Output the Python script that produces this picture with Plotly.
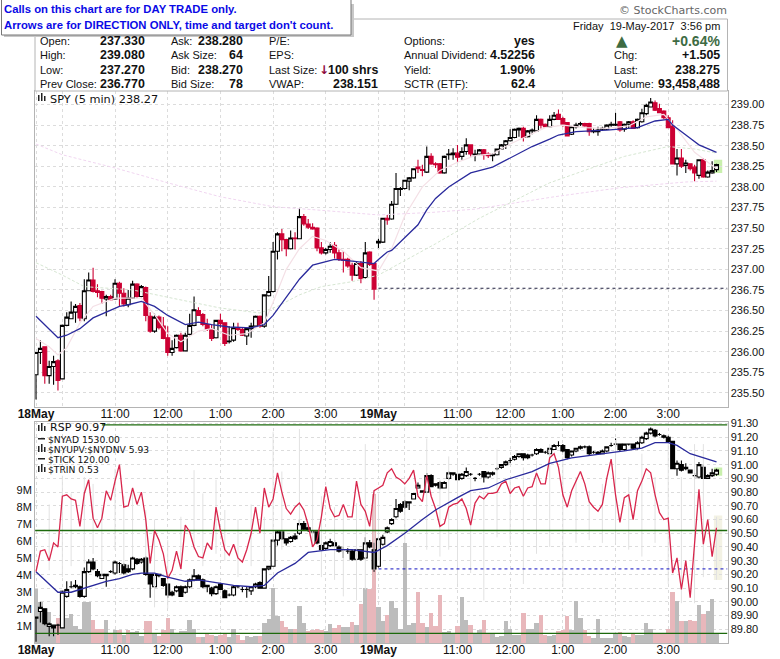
import plotly.graph_objects as go

# ---- SPY 5 min, main panel
spy_open = [235.72,235.99,236.06,235.71,235.82,235.89,235.67,236.32,236.40,236.48,
    236.56,236.40,236.74,236.87,236.74,236.73,236.64,236.67,236.64,236.83,
    236.71,236.57,236.65,236.82,236.67,236.78,236.43,236.25,236.42,236.31,
    236.17,235.99,236.05,236.20,236.01,236.21,236.32,236.50,236.45,236.33,
    236.27,236.17,236.38,236.35,236.12,236.14,236.29,236.27,236.19,236.28,
    236.31,236.43,236.31,236.68,236.73,237.22,237.43,237.36,237.25,237.38,
    237.37,237.64,237.55,237.51,237.50,237.26,237.20,237.24,237.29,237.20,
    237.12,237.12,237.05,236.93,237.07,236.90,237.21,237.07,
    237.32,237.33,237.62,237.61,237.79,237.97,237.98,238.07,238.11,238.24,
    238.21,238.18,238.37,238.28,238.28,238.17,238.39,238.39,238.41,238.37,
    238.43,238.51,238.39,238.40,238.45,238.40,238.38,238.39,238.46,238.51,
    238.56,238.60,238.69,238.71,238.61,238.68,238.68,238.82,238.76,238.73,
    238.82,238.88,238.83,238.78,238.64,238.73,238.76,238.77,238.77,238.67,
    238.67,238.70,238.70,238.75,238.75,238.79,238.70,238.76,238.79,238.72,
    238.79,238.89,238.97,239.02,238.95,238.92,238.84,238.74,238.28,238.35,
    238.26,238.28,238.24,238.14,238.33,238.12,238.17,238.21]
spy_high = [235.99,236.14,236.06,235.89,235.95,235.91,236.33,236.48,236.61,236.58,
    236.59,236.88,236.96,237.02,236.82,236.74,236.69,236.69,236.88,236.85,
    236.77,236.75,236.86,236.83,236.81,236.79,236.48,236.46,236.44,236.42,
    236.31,236.14,236.21,236.23,236.23,236.46,236.67,236.54,236.47,236.40,
    236.33,236.38,236.46,236.35,236.31,236.35,236.35,236.29,236.29,236.35,
    236.44,236.44,236.69,236.92,237.33,237.45,237.49,237.37,237.47,237.45,
    237.74,237.67,237.61,237.56,237.51,237.33,237.26,237.33,237.33,237.24,
    237.22,237.14,237.08,237.10,237.10,237.33,237.22,237.08,
    237.37,237.62,237.66,237.83,238.17,238.00,238.08,238.12,238.22,238.33,
    238.27,238.49,238.41,238.30,238.29,238.38,238.46,238.47,238.51,238.48,
    238.59,238.51,238.45,238.46,238.46,238.42,238.41,238.46,238.52,238.57,
    238.70,238.71,238.72,238.73,238.69,238.71,238.87,238.83,238.77,238.87,
    238.91,238.94,238.85,238.78,238.74,238.78,238.79,238.78,238.78,238.71,
    238.73,238.73,238.76,238.79,238.90,238.80,238.77,238.80,238.81,238.83,
    238.95,239.01,239.08,239.05,239.01,238.93,238.87,238.81,238.46,238.46,
    238.33,238.28,238.27,238.33,238.35,238.20,238.31,238.28]
spy_low = [235.42,235.85,235.61,235.61,235.60,235.53,235.67,236.31,236.40,236.35,
    236.37,236.37,236.74,236.72,236.66,236.58,236.43,236.62,236.63,236.55,
    236.55,236.54,236.64,236.65,236.66,236.37,236.23,236.23,236.27,236.15,
    235.95,235.95,236.04,236.00,236.01,236.20,236.31,236.44,236.31,236.25,
    236.13,236.16,236.29,236.07,236.10,236.12,236.25,236.19,236.08,236.17,
    236.31,236.29,236.29,236.67,236.72,237.12,237.22,237.16,237.24,237.24,
    237.37,237.53,237.49,237.48,237.22,237.18,237.18,237.20,237.13,237.10,
    236.96,237.02,236.86,236.92,236.83,236.89,237.04,236.63,
    237.26,237.32,237.54,237.60,237.78,237.89,237.97,237.96,238.10,238.17,
    238.13,238.17,238.27,238.23,238.16,238.16,238.33,238.33,238.30,238.33,
    238.39,238.37,238.31,238.39,238.33,238.35,238.31,238.38,238.45,238.46,
    238.55,238.59,238.61,238.55,238.60,238.64,238.68,238.71,238.72,238.72,
    238.81,238.82,238.73,238.62,238.63,238.71,238.74,238.73,238.62,238.65,
    238.62,238.68,238.69,238.73,238.74,238.67,238.67,238.71,238.71,238.71,
    238.78,238.87,238.97,238.92,238.90,238.82,238.72,238.28,238.14,238.23,
    238.17,238.20,238.07,238.10,238.11,238.11,238.16,238.18]
spy_close = [235.99,236.04,235.71,235.82,235.88,235.65,236.32,236.42,236.48,236.55,
    236.41,236.74,236.87,236.73,236.72,236.65,236.67,236.63,236.83,236.71,
    236.58,236.65,236.82,236.67,236.79,236.44,236.25,236.42,236.29,236.16,
    235.99,236.04,236.20,236.01,236.20,236.32,236.51,236.44,236.33,236.27,
    236.16,236.38,236.34,236.10,236.13,236.29,236.27,236.20,236.28,236.31,
    236.43,236.31,236.69,236.73,237.22,237.43,237.36,237.25,237.38,237.37,
    237.64,237.55,237.51,237.49,237.26,237.20,237.24,237.28,237.20,237.12,
    237.11,237.04,236.93,237.07,236.89,237.20,237.06,236.76,
    237.34,237.62,237.60,237.79,237.98,237.98,238.08,238.11,238.22,238.22,
    238.20,238.37,238.28,238.27,238.17,238.37,238.40,238.41,238.36,238.43,
    238.51,238.40,238.40,238.45,238.39,238.38,238.39,238.46,238.51,238.56,
    238.60,238.70,238.71,238.60,238.68,238.69,238.82,238.75,238.73,238.82,
    238.87,238.82,238.76,238.62,238.73,238.75,238.77,238.74,238.67,238.68,
    238.69,238.71,238.75,238.76,238.76,238.69,238.76,238.79,238.71,238.82,
    238.90,238.99,239.03,238.93,238.90,238.84,238.72,238.28,238.35,238.25,
    238.29,238.22,238.17,238.33,238.12,238.18,238.20,238.27]

spy_slow_x = [0,1,3,5,7,10,13,16,19,21,24,27,30,34,37,40,44,49,52,54,57,60,63,68,72,77,78,80,81,84,87,89,91,
    94,99,104,108,113,117,119,123,130,137,141,144,145,149,151,155]
spy_slow = [236.43,236.38,236.28,236.17,236.20,236.28,236.41,236.48,236.55,236.57,236.61,236.55,236.44,236.33,
    236.36,236.33,236.30,236.29,236.33,236.44,236.66,236.88,237.05,237.12,237.10,237.07,237.12,237.21,237.23,
    237.38,237.54,237.72,237.86,238.00,238.17,238.24,238.35,238.49,238.58,238.63,238.67,238.69,238.72,238.80,
    238.82,238.75,238.59,238.51,238.42]
spy_fast_x = [0,3,5,7,10,13,18,24,27,30,33,37,40,44,48,52,54,57,60,63,66,70,74,78,81,84,88,92,96,100,104,108,
    112,116,120,125,130,135,139,143,146,150,155]
spy_fast = [236.16,236.06,235.96,236.05,236.35,236.55,236.65,236.65,236.45,236.22,236.12,236.25,236.28,236.20,
    236.22,236.35,236.60,237.00,237.25,237.40,237.35,237.22,237.02,236.98,237.25,237.65,238.00,238.20,238.30,
    238.38,238.40,238.52,238.62,238.72,238.75,238.72,238.71,238.74,238.85,238.88,238.70,238.42,238.22]
spy_ma_pink_x = [0,6,18,30,42,54,64,78,90,100,118,133,148,155]
spy_ma_pink = [238.52,238.39,238.23,238.05,237.88,237.76,237.72,237.66,237.69,237.73,237.88,237.99,238.06,238.07]
spy_ma_green_x = [0,6,11,22,31,42,51,55,60,65,72,78,91,101,117,134,144,150,155]
spy_ma_green = [237.08,236.93,236.79,236.75,236.65,236.53,236.47,236.55,236.69,236.79,236.85,236.93,237.31,
    237.62,238.05,238.37,238.49,238.46,238.41]
spy_prev_close = 236.77

# ---- RSP, lower panel
rsp_open = [89.88,89.93,89.95,89.82,89.83,89.83,89.81,90.04,90.11,90.11,
    90.11,90.04,90.22,90.29,90.22,90.17,90.19,90.22,90.21,90.28,
    90.27,90.24,90.24,90.31,90.29,90.32,90.20,90.11,90.20,90.17,
    90.13,90.07,90.08,90.11,90.07,90.11,90.16,90.19,90.16,90.12,
    90.10,90.06,90.13,90.08,90.05,90.05,90.11,90.09,90.09,90.08,
    90.11,90.14,90.10,90.24,90.26,90.45,90.51,90.46,90.44,90.48,
    90.50,90.57,90.54,90.51,90.51,90.41,90.39,90.41,90.43,90.40,
    90.38,90.37,90.37,90.31,90.38,90.32,90.43,90.38,
    90.26,90.42,90.51,90.57,90.62,90.71,90.73,90.72,90.75,90.83,
    90.80,90.80,90.92,90.86,90.87,90.83,90.90,90.93,90.93,90.90,
    90.92,90.93,90.90,90.93,90.95,90.91,90.93,90.97,90.98,91.00,
    91.03,91.04,91.06,91.08,91.07,91.07,91.08,91.11,91.09,91.08,
    91.11,91.14,91.14,91.11,91.07,91.10,91.12,91.13,91.13,91.09,
    91.08,91.08,91.10,91.14,91.15,91.15,91.11,91.15,91.15,91.12,
    91.16,91.19,91.23,91.25,91.22,91.21,91.20,91.17,90.97,91.00,
    90.97,90.96,90.92,90.91,90.98,90.90,90.92,90.93]
rsp_high = [89.89,90.00,89.95,89.85,89.83,89.84,90.08,90.15,90.15,90.16,
    90.12,90.25,90.31,90.32,90.24,90.20,90.20,90.23,90.30,90.29,
    90.28,90.27,90.33,90.32,90.32,90.33,90.20,90.20,90.20,90.17,
    90.13,90.08,90.12,90.12,90.12,90.17,90.24,90.20,90.17,90.12,
    90.11,90.12,90.14,90.09,90.06,90.12,90.12,90.11,90.11,90.11,
    90.14,90.15,90.24,90.26,90.45,90.52,90.52,90.46,90.48,90.50,
    90.60,90.59,90.55,90.52,90.51,90.42,90.44,90.46,90.45,90.41,
    90.40,90.39,90.38,90.39,90.38,90.47,90.45,90.43,
    90.47,90.49,90.55,90.61,90.75,90.72,90.74,90.73,90.79,90.87,
    90.81,90.94,90.93,90.86,90.88,90.88,90.95,90.94,90.93,90.94,
    90.98,90.94,90.91,90.94,90.95,90.95,90.95,90.98,91.00,91.03,
    91.05,91.07,91.08,91.08,91.08,91.08,91.12,91.12,91.10,91.12,
    91.15,91.17,91.15,91.11,91.10,91.12,91.14,91.14,91.14,91.10,
    91.10,91.11,91.13,91.16,91.19,91.15,91.15,91.15,91.15,91.17,
    91.21,91.24,91.27,91.26,91.23,91.22,91.21,91.17,91.03,91.03,
    91.01,90.96,90.94,91.02,91.00,90.93,90.97,90.97]
rsp_low = [89.71,89.85,89.83,89.75,89.75,89.76,89.81,90.03,90.10,90.10,
    90.03,90.03,90.21,90.23,90.18,90.17,90.11,90.21,90.20,90.21,
    90.20,90.21,90.23,90.27,90.28,90.19,90.03,90.10,90.18,90.11,
    90.03,90.04,90.07,90.04,90.06,90.10,90.15,90.16,90.10,90.07,
    90.04,90.05,90.09,90.03,90.04,90.04,90.10,90.07,90.03,90.05,
    90.10,90.10,90.10,90.23,90.26,90.41,90.45,90.41,90.43,90.45,
    90.49,90.52,90.51,90.50,90.42,90.37,90.38,90.40,90.40,90.36,
    90.32,90.35,90.30,90.30,90.30,90.31,90.39,90.22,
    90.25,90.41,90.50,90.56,90.61,90.65,90.68,90.67,90.75,90.83,
    90.80,90.80,90.84,90.84,90.82,90.83,90.89,90.92,90.89,90.89,
    90.91,90.92,90.88,90.92,90.87,90.90,90.92,90.96,90.97,90.99,
    91.01,91.03,91.05,91.03,91.04,91.06,91.07,91.09,91.08,91.08,
    91.11,91.13,91.09,91.04,91.06,91.09,91.11,91.12,91.07,91.08,
    91.07,91.08,91.09,91.13,91.13,91.10,91.10,91.14,91.11,91.11,
    91.15,91.18,91.22,91.20,91.21,91.19,91.16,90.97,90.92,90.95,
    90.96,90.94,90.90,90.90,90.90,90.90,90.91,90.92]
rsp_close = [89.89,89.96,89.84,89.84,89.81,89.83,90.07,90.09,90.11,90.12,
    90.04,90.22,90.29,90.24,90.19,90.20,90.20,90.22,90.29,90.28,
    90.21,90.22,90.32,90.28,90.31,90.20,90.13,90.20,90.19,90.12,
    90.05,90.05,90.11,90.04,90.11,90.16,90.19,90.16,90.11,90.11,
    90.06,90.11,90.09,90.03,90.05,90.11,90.11,90.09,90.09,90.11,
    90.13,90.10,90.24,90.26,90.45,90.51,90.46,90.43,90.47,90.46,
    90.57,90.53,90.52,90.51,90.43,90.38,90.43,90.44,90.41,90.37,
    90.38,90.37,90.31,90.38,90.31,90.43,90.40,90.24,
    90.46,90.47,90.54,90.60,90.68,90.66,90.69,90.73,90.79,90.85,
    90.81,90.92,90.84,90.85,90.83,90.87,90.94,90.94,90.89,90.93,
    90.95,90.93,90.90,90.93,90.91,90.94,90.94,90.97,91.00,91.02,
    91.03,91.06,91.08,91.05,91.05,91.07,91.11,91.09,91.09,91.12,
    91.14,91.14,91.10,91.05,91.10,91.12,91.13,91.13,91.08,91.09,
    91.09,91.10,91.13,91.14,91.15,91.11,91.15,91.15,91.12,91.16,
    91.20,91.23,91.26,91.21,91.22,91.20,91.17,90.97,91.01,90.96,
    90.98,90.94,90.92,91.00,90.90,90.92,90.94,90.96]

tick_line = [90.22,90.37,90.38,90.30,90.43,90.40,90.77,90.78,90.75,90.74,
    90.55,90.79,90.89,90.61,90.54,90.61,90.81,90.74,90.88,91.00,
    90.69,90.70,90.83,90.71,90.80,90.60,90.28,90.52,90.45,90.35,
    90.17,90.23,90.37,90.24,90.56,90.51,90.40,90.33,90.32,90.43,
    90.38,90.69,90.52,90.38,90.34,90.42,90.32,90.29,90.38,90.50,
    90.69,90.50,90.83,90.69,90.75,90.94,90.80,90.68,90.64,90.69,
    90.72,90.67,90.56,90.40,90.45,90.62,90.84,90.68,90.62,90.63,
    90.71,90.62,90.62,90.88,90.71,90.66,90.55,90.81,
    90.83,90.85,90.94,90.97,90.91,90.89,90.86,90.90,90.96,90.77,
    90.73,90.92,90.77,90.68,90.55,90.57,90.69,90.71,90.72,90.75,
    90.68,90.56,90.72,90.77,90.75,90.79,90.79,90.80,90.86,90.88,
    90.79,90.83,90.84,90.77,90.83,90.84,90.94,90.86,90.86,91.05,
    91.08,90.98,90.78,90.69,90.81,90.88,90.95,90.86,90.73,90.69,
    90.66,90.71,90.90,91.04,90.78,90.58,90.76,90.78,90.60,90.81,
    90.88,90.97,90.94,90.78,90.65,90.60,90.61,90.21,90.32,90.09,
    90.30,90.03,90.45,90.82,90.42,90.60,90.33,90.54]

rsp_ma_x = [0,5,8,10,13,16,19,22,24,27,30,34,37,41,45,49,52,55,59,62,67,72,77,80,84,88,91,96,99,103,107,113,
    117,122,127,134,138,141,144,146,149,152,155]
rsp_ma = [90.22,90.07,90.07,90.09,90.12,90.15,90.17,90.20,90.21,90.21,90.18,90.15,90.16,90.14,90.12,90.11,90.12,
    90.21,90.28,90.36,90.38,90.38,90.36,90.41,90.50,90.60,90.67,90.76,90.81,90.83,90.89,90.95,91.01,91.05,91.07,
    91.10,91.12,91.16,91.16,91.14,91.08,91.05,91.02]

rsp_levels = [91.29, 90.52, 89.77]
rsp_prev_close = 90.24

whisk_x = [3,6,8,11,13,15,18,20,22,25,27,30,33,36,38,41,43,46,49,52,54,56,60,63,65,68,70,73,75,77,78,
    84,89,92,94,96,99,102,105,108,111,114,117,120,123,126,129,132,135,138,141,144,147,150,152,155]
whisk_top = [90.71,90.92,90.79,90.91,90.86,90.69,90.97,90.77,90.81,90.67,90.60,90.45,90.62,90.96,90.79,90.89,
    90.67,90.60,90.71,90.62,91.24,90.95,91.26,90.91,90.77,90.69,90.67,90.72,91.15,90.81,90.79,
    90.84,91.19,90.89,91.06,91.03,90.91,90.81,91.11,90.91,90.98,91.03,91.15,91.06,90.91,90.81,90.86,91.18,
    90.91,91.08,90.91,91.15,90.91,91.15,91.15,90.62]
whisk_bot = [90.23,90.18,90.26,90.28,90.35,90.18,90.38,90.26,90.33,90.21,89.96,89.95,90.23,90.38,90.26,90.35,
    90.30,90.18,90.26,90.30,90.43,90.38,90.55,90.40,90.18,90.16,90.04,90.01,90.09,90.23,90.30,
    90.43,90.38,90.33,90.38,90.13,90.21,90.01,90.47,90.43,90.13,90.35,90.40,90.11,90.43,90.45,90.43,90.43,
    90.38,90.33,90.43,90.13,89.99,89.99,90.18,90.16]

vol_m = [3.2,2.4,1.95,1.85,0.9,1.45,3.1,1.5,1.7,1.0,
    0.85,2.4,2.4,1.35,0.85,0.85,1.35,0.55,0.75,0.75,
    0.45,0.75,0.65,0.7,0.4,1.3,1.3,0.55,0.4,0.75,
    1.45,0.85,0.6,0.7,0.7,1.35,0.85,0.33,0.37,0.55,
    0.5,0.4,0.5,0.55,0.33,0.8,0.45,0.2,0.4,0.37,
    0.4,0.4,1.15,1.4,3.25,1.6,1.3,0.95,0.8,0.85,
    2.2,1.2,0.7,0.75,0.8,0.75,0.7,1.1,0.9,1.05,
    0.95,0.95,1.25,1.05,2.3,3.25,3.15,8.75,
    2.1,1.3,1.65,2.45,2.05,0.85,5.9,1.05,1.2,3.0,
    1.15,0.95,1.75,1.0,2.8,0.65,0.7,0.55,1.0,2.7,
    1.35,1.05,0.55,0.75,1.35,0.55,0.55,0.33,0.4,1.3,
    0.85,0.5,0.5,1.75,0.85,0.8,1.2,1.65,0.45,0.4,
    0.5,0.7,0.75,1.6,0.75,2.45,1.45,0.75,0.4,0.3,
    1.4,0.3,0.27,0.27,0.6,0.65,0.4,0.33,0.55,0.45,
    0.45,1.2,0.85,0.6,0.6,0.55,0.8,3.0,2.5,1.3,
    1.3,1.35,1.3,2.25,1.7,1.9,2.6,0.55]
vol_red = [5,13,14,15,17,19,21,25,26,28,29,30,37,39,40,42,43,46,47,51,56,57,59,62,63,64,65,68,69,72,74,76,77,80,
    87,88,90,91,92,96,99,102,103,111,115,116,119,120,121,125,126,133,136,141,142,143,144,145,147,149,150,152]

tick_pos = [0,6,18,30,42,54,66,78,84,96,108,120,132,144]
tick_txt = ["<b>18May</b>","","11:00","12:00","1:00","2:00","3:00","<b>19May</b>","","11:00","12:00","1:00","2:00","3:00"]
spy_ticks = [239.00,238.75,238.50,238.25,238.00,237.75,237.50,237.25,237.00,236.75,236.50,236.25,236.00,235.75,235.50]
rsp_ticks = [91.30,91.20,91.10,91.00,90.90,90.80,90.70,90.60,90.50,90.40,90.30,90.20,90.10,90.00,89.90,89.80]
vol_ticks = [1,2,3,4,5,6,7,8,9]

W, H = 780, 659
GRID = "#dcdcdc"
FRAME = "#b4b4b4"
SANS = "Liberation Sans"
VERA = "DejaVu Sans"


def px(x):
    return x / W


def py(y):
    return 1 - y / H


notes = []
shapes = []


def text(x, y, s, anchor="left", size=11, color="#111111", font=SANS):
    notes.append(dict(xref="paper", yref="paper", x=px(x), y=py(y), text=s, showarrow=False,
                      xanchor=anchor, yanchor="middle", borderpad=0, borderwidth=0,
                      font=dict(family=font, size=size, color=color)))


def box(x0, y0, x1, y1, fill=None, line=None):
    shapes.append(dict(type="rect", xref="paper", yref="paper", x0=px(x0), x1=px(x1), y0=py(y0), y1=py(y1),
                       fillcolor=fill or "rgba(0,0,0,0)", line=dict(color=line or "rgba(0,0,0,0)", width=1)))


def icon_bars(x, y):
    # small bar glyph in front of the panel legends
    box(x, y - 3, x + 1.5, y + 3, "#222222")
    box(x + 3, y - 5, x + 4.5, y + 3, "#222222")
    box(x + 6, y - 2, x + 7.5, y + 3, "#222222")


fig = go.Figure()

# ---- main panel
fig.add_trace(go.Scatter(x=spy_ma_pink_x, y=spy_ma_pink, mode="lines", line=dict(color="#f0d6f0", width=1, dash="3px,2px")))
fig.add_trace(go.Scatter(x=spy_ma_green_x, y=spy_ma_green, mode="lines", line=dict(color="#d6e6d2", width=1, dash="3px,2px")))
fig.add_trace(go.Scatter(x=spy_fast_x, y=spy_fast, mode="lines", line=dict(color="#f4e0e6", width=1.2)))
fig.add_trace(go.Scatter(x=[78, 157.5], y=[spy_prev_close, spy_prev_close], mode="lines",
                         line=dict(color="#202040", width=1, dash="3px,3px")))
fig.add_trace(go.Candlestick(x=list(range(len(spy_open))), open=spy_open, high=spy_high, low=spy_low, close=spy_close,
                             increasing=dict(line=dict(color="#000000", width=1.1), fillcolor="#ffffff"),
                             decreasing=dict(line=dict(color="#cc0033", width=1.1), fillcolor="#cc0033"),
                             whiskerwidth=0))
fig.add_trace(go.Scatter(x=spy_slow_x, y=spy_slow, mode="lines", line=dict(color="#2a2a9c", width=1.3)))

# ---- lower panel: volume on the left scale, everything else on the right scale
bar_colors = ["#e8b7bb" if i in vol_red else "#bcbcbc" for i in range(len(vol_m))]
fig.add_trace(go.Bar(x=list(range(len(vol_m))), y=vol_m, xaxis="x2", yaxis="y2", width=1,
                     marker=dict(color=bar_colors, line=dict(width=0))))
wx, wy = [], []
for i, t, b in zip(whisk_x, whisk_top, whisk_bot):
    wx += [i, i, None]
    wy += [t, b, None]
fig.add_trace(go.Scatter(x=wx, y=wy, xaxis="x2", yaxis="y3", mode="lines", line=dict(color="#e2e2e2", width=1)))
fig.add_trace(go.Scatter(x=[15, 157.5], y=[rsp_levels[0]] * 2, xaxis="x2", yaxis="y3", mode="lines",
                         line=dict(color="#1c6a0c", width=1.3)))
for lev in rsp_levels[1:]:
    fig.add_trace(go.Scatter(x=[-0.2, 157.5], y=[lev, lev], xaxis="x2", yaxis="y3", mode="lines",
                             line=dict(color="#1c6a0c", width=1.3)))
fig.add_trace(go.Scatter(x=[78, 157.5], y=[rsp_prev_close] * 2, xaxis="x2", yaxis="y3", mode="lines",
                         line=dict(color="#1010c0", width=1, dash="3px,3px")))
fig.add_trace(go.Scatter(x=list(range(len(tick_line))), y=tick_line, xaxis="x2", yaxis="y3", mode="lines",
                         line=dict(color="#d8264c", width=1.3)))
fig.add_trace(go.Scatter(x=rsp_ma_x, y=rsp_ma, xaxis="x2", yaxis="y3", mode="lines", line=dict(color="#2a2a9c", width=1.3)))
fig.add_trace(go.Candlestick(x=list(range(len(rsp_open))), open=rsp_open, high=rsp_high, low=rsp_low, close=rsp_close,
                             xaxis="x2", yaxis="y3",
                             increasing=dict(line=dict(color="#000000", width=1.1), fillcolor="#ffffff"),
                             decreasing=dict(line=dict(color="#000000", width=1.1), fillcolor="#000000"),
                             whiskerwidth=0))

# last-bar highlights
shapes.append(dict(type="rect", xref="x", yref="y", x0=154.4, x1=156.3, y0=238.17, y1=238.33, layer="below",
                   fillcolor="#c9f0ad", line=dict(width=0)))
shapes.append(dict(type="rect", xref="x2", yref="y3", x0=154.4, x1=156.3, y0=90.92, y1=90.98, layer="below",
                   fillcolor="#c9f0ad", line=dict(width=0)))
shapes.append(dict(type="rect", xref="x2", yref="y3", x0=154.4, x1=156.3, y0=90.16, y1=90.63, layer="below",
                   fillcolor="#f3f2e4", line=dict(width=0)))

# ---- header block
box(35, 19, 727.5, 91, "#ffffff", FRAME)
VAL = dict(anchor="right", size=12.4)
rows = [41, 55, 70, 84]
for y, lab, val in zip(rows, ["Open:", "High:", "Low:", "Prev Close:"], ["237.330", "239.080", "237.270", "236.770"]):
    text(40, y, lab)
    text(145, y, "<b>%s</b>" % val, **VAL)
for y, lab, val in zip(rows, ["Ask:", "Ask Size:", "Bid:", "Bid Size:"], ["238.280", "64", "238.270", "78"]):
    text(171, y, lab)
    text(243, y, "<b>%s</b>" % val, **VAL)
for y, lab, val in zip(rows, ["P/E:", "EPS:", "Last Size:", "VWAP:"], ["", "", "100 shrs", "238.151"]):
    text(269, y, lab)
    if val:
        text(378, y, "<b>%s</b>" % val, **VAL)
text(323.5, 70, "<b>↓</b>", anchor="center", size=12, color="#8c0a3c", font=VERA)
for y, lab, val in zip(rows, ["Options:", "Annual Dividend:", "Yield:", "SCTR (ETF):"], ["yes", "4.52256", "1.90%", "62.4"]):
    text(404, y, lab)
    text(535, y, "<b>%s</b>" % val, **VAL)
text(622, 41, "▲", anchor="center", size=15, color="#3d6b43", font=VERA)
text(720, 40.5, "<b>+0.64%</b>", anchor="right", size=14, color="#3d6b43")
for y, lab, val in zip(rows[1:], ["Chg:", "Last:", "Volume:"], ["+1.505", "238.275", "93,458,488"]):
    text(614, y, lab)
    text(720, y, "<b>%s</b>" % val, **VAL)
text(720, 26, "Friday  19-May-2017  3:56 pm", anchor="right")
text(727, 11, "© StockCharts.com", anchor="right", size=11, color="#666666", font=VERA)

# notice box over the top left corner
box(4, 4, 354, 37, "#c8c8c8")
box(1.5, -2, 351, 35, "#ffffff", "#777777")
text(3.5, 9, "<b>Calls on this chart are for DAY TRADE only.</b>", size=11.3, color="#0a0ae6")
text(3.5, 25, "<b>Arrows are for DIRECTION ONLY, time and target don't count.</b>", size=11.3, color="#0a0ae6")

# ---- panel legends
icon_bars(38, 98)
text(50, 99, "SPY (5 min) 238.27", size=11.3, font=VERA)
icon_bars(38, 428)
text(50, 428, "RSP 90.97", size=11, font=VERA)
box(38, 438, 45, 439.5, "#222222")
text(48, 439, "$NYAD 1530.00", size=9.2, font=VERA)
icon_bars(38, 449)
text(48, 449, "$NYUPV:$NYDNV 5.93", size=9.2, font=VERA)
box(38, 458, 45, 459.5, "#222222")
text(48, 459, "$TICK 120.00", size=9.2, font=VERA)
icon_bars(38, 469)
text(48, 469, "$TRIN 0.53", size=9.2, font=VERA)

x_common = dict(range=[-0.23, 157.5], tickmode="array", tickvals=tick_pos, ticktext=tick_txt, ticks="",
                ticklabelstandoff=-4,
                tickfont=dict(family=SANS, size=12, color="#111111"), showgrid=True, gridcolor=GRID, griddash="3px,3px",
                gridwidth=1, zeroline=False, showline=True, mirror=True, linecolor=FRAME, linewidth=1,
                rangeslider=dict(visible=False))
y_common = dict(tickfont=dict(family=SANS, size=11, color="#111111"), ticks="", showgrid=True, gridcolor=GRID,
                griddash="3px,3px", gridwidth=1, zeroline=False, tickmode="array")

fig.update_layout(
    width=W, height=H, margin=dict(l=0, r=0, t=0, b=0, autoexpand=False), autosize=False,
    paper_bgcolor="#ffffff", plot_bgcolor="#ffffff", showlegend=False,
    boxmode="overlay", boxgap=0.12, boxgroupgap=0, barmode="overlay", bargap=0, hovermode=False,
    xaxis=dict(domain=[px(35), px(727.5)], anchor="y", **x_common),
    xaxis2=dict(domain=[px(35), px(727.5)], anchor="y2", **x_common),
    yaxis=dict(domain=[py(407), py(91)], range=[235.329, 239.164], side="right", anchor="x",
               tickvals=spy_ticks, ticktext=["%.2f" % v for v in spy_ticks],
               showline=True, mirror=True, linecolor=FRAME, **y_common),
    yaxis2=dict(domain=[py(643), py(422)], range=[0, 13], side="left", anchor="x2",
                tickmode="array", tickvals=vol_ticks, ticktext=["%dM" % v for v in vol_ticks],
                tickfont=dict(family=SANS, size=11, color="#111111"), ticks="", showgrid=False, zeroline=False,
                showline=True, linecolor=FRAME),
    yaxis3=dict(domain=[py(643), py(422)], range=[89.70, 91.311], side="right", anchor="x2", overlaying="y2",
                tickvals=rsp_ticks, ticktext=["%.2f" % v for v in rsp_ticks],
                showline=True, linecolor=FRAME, **y_common),
    shapes=shapes, annotations=notes,
)

fig.write_html("out.html", config={"displayModeBar": False}, post_script="document.body.style.margin='0';")
